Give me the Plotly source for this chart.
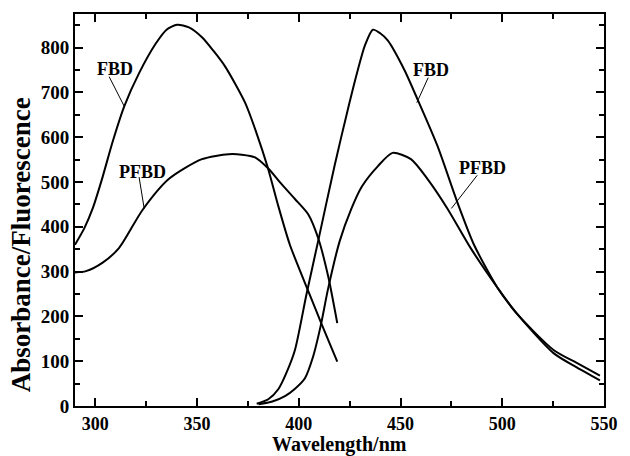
import plotly.graph_objects as go

# FBD absorbance
abs_fbd_x = [290, 294.6, 298.7, 303.3, 308.5, 314.2, 321.5, 329.7, 335, 340.2, 346, 352.4, 358, 363.9, 373.6, 379, 384.7, 390, 395.6, 404.6, 411.1, 418.9]
abs_fbd_y = [360, 397, 441, 507, 590, 669, 743, 809, 840, 851, 845, 823, 793, 757, 677, 612, 533, 445, 360, 257, 184, 99]
# PFBD absorbance
abs_pfbd_x = [290, 295.4, 303.6, 311.7, 323.1, 336.2, 352.4, 365.5, 372, 378.5, 385, 391, 398.1, 404.6, 409.5, 414.4, 418.9]
abs_pfbd_y = [298, 301, 320, 353, 437, 507, 551, 562, 561, 555, 530, 498, 462, 428, 375, 290, 185]
# FBD fluorescence
fl_fbd_x = [379.3, 385, 390, 394, 398.1, 403.8, 409.5, 417.6, 424.1, 429, 432.5, 436.4, 440, 443.7, 451.9, 458.4, 468.1, 477.9, 486.1, 497.5, 507.2, 525.2, 536.6, 548]
fl_fbd_y = [5, 15, 38, 75, 125, 250, 368, 537, 662, 750, 805, 840, 832, 816, 750, 684, 581, 455, 360, 265, 206, 118, 86, 57]
# PFBD fluorescence
fl_pfbd_x = [380.2, 387, 393.2, 398, 403, 407, 410.8, 414.4, 420.1, 425.8, 431, 438.8, 446.1, 455.1, 463.2, 473, 484.4, 497.5, 507.2, 525.2, 536.6, 548]
fl_pfbd_y = [4, 10, 22, 38, 62, 110, 180, 262, 368, 440, 490, 535, 565, 551, 507, 441, 353, 265, 206, 125, 96, 68]

x_ticks = [300, 350, 400, 450, 500, 550]
y_ticks = [0, 100, 200, 300, 400, 500, 600, 700, 800]

labels = ["FBD", "PFBD", "FBD", "PFBD"]
label_x = [309.6, 323.1, 465.2, 490.1]
label_y = [752, 523, 751, 531]
leader_x0 = [306.8, 321.5, 463.6, 487.7]
leader_y0 = [735, 511, 733, 515]
leader_x1 = [314.2, 324.0, 458.0, 475.0]
leader_y1 = [669, 441, 677, 441]

FONT = "Liberation Serif, Times New Roman, serif"
line = dict(color="black", width=2, shape="spline", smoothing=0.7)

fig = go.Figure()
for xs, ys in [(abs_fbd_x, abs_fbd_y), (abs_pfbd_x, abs_pfbd_y), (fl_fbd_x, fl_fbd_y), (fl_pfbd_x, fl_pfbd_y)]:
    fig.add_trace(go.Scatter(x=xs, y=ys, mode="lines", line=line, showlegend=False, hoverinfo="skip"))

for t, lx, ly, x0, y0, x1, y1 in zip(labels, label_x, label_y, leader_x0, leader_y0, leader_x1, leader_y1):
    fig.add_annotation(x=lx, y=ly, text=t, showarrow=False,
                       font=dict(family=FONT, size=18, color="black", weight="bold"))
    fig.add_shape(type="line", x0=x0, y0=y0, x1=x1, y1=y1, xref="x", yref="y",
                  line=dict(color="black", width=1))

# axis titles
fig.add_annotation(text="Wavelength/nm", xref="paper", yref="paper", x=0.5, y=0,
                   yshift=-38, xanchor="center", yanchor="middle", showarrow=False,
                   font=dict(family=FONT, size=20, color="black", weight="bold"))
fig.add_annotation(text="Absorbance/Fluorescence", xref="paper", yref="paper", x=0, y=0.41,
                   xshift=-54, xanchor="center", yanchor="middle", textangle=-90, showarrow=False,
                   font=dict(family=FONT, size=27, color="black", weight="bold"))

axis_common = dict(showline=True, linecolor="black", linewidth=2, showgrid=False, zeroline=False,
                   ticks="inside", ticklen=8, tickwidth=1.5, tickcolor="black", mirror="ticks")

fig.update_xaxes(range=[290, 550], tickvals=x_ticks, ticktext=[str(v) for v in x_ticks],
                 tickfont=dict(family=FONT, size=18, color="black", weight="bold"),
                 minor=dict(ticks="inside", ticklen=5, tickwidth=1.5, tickcolor="black", dtick=25, tick0=275),
                 **axis_common)
fig.update_yaxes(range=[0, 875], tickvals=y_ticks, ticktext=[str(v) for v in y_ticks],
                 tickfont=dict(family=FONT, size=19, color="black", weight="bold"),
                 minor=dict(ticks="inside", ticklen=5, tickwidth=1.5, tickcolor="black", dtick=50, tick0=0),
                 **axis_common)

fig.update_layout(width=630, height=456, margin=dict(l=75, r=23, t=13, b=50),
                  plot_bgcolor="white", paper_bgcolor="white")
fig.write_html("out.html", config={"displayModeBar": False},
               post_script="document.body.style.margin='0px';")
